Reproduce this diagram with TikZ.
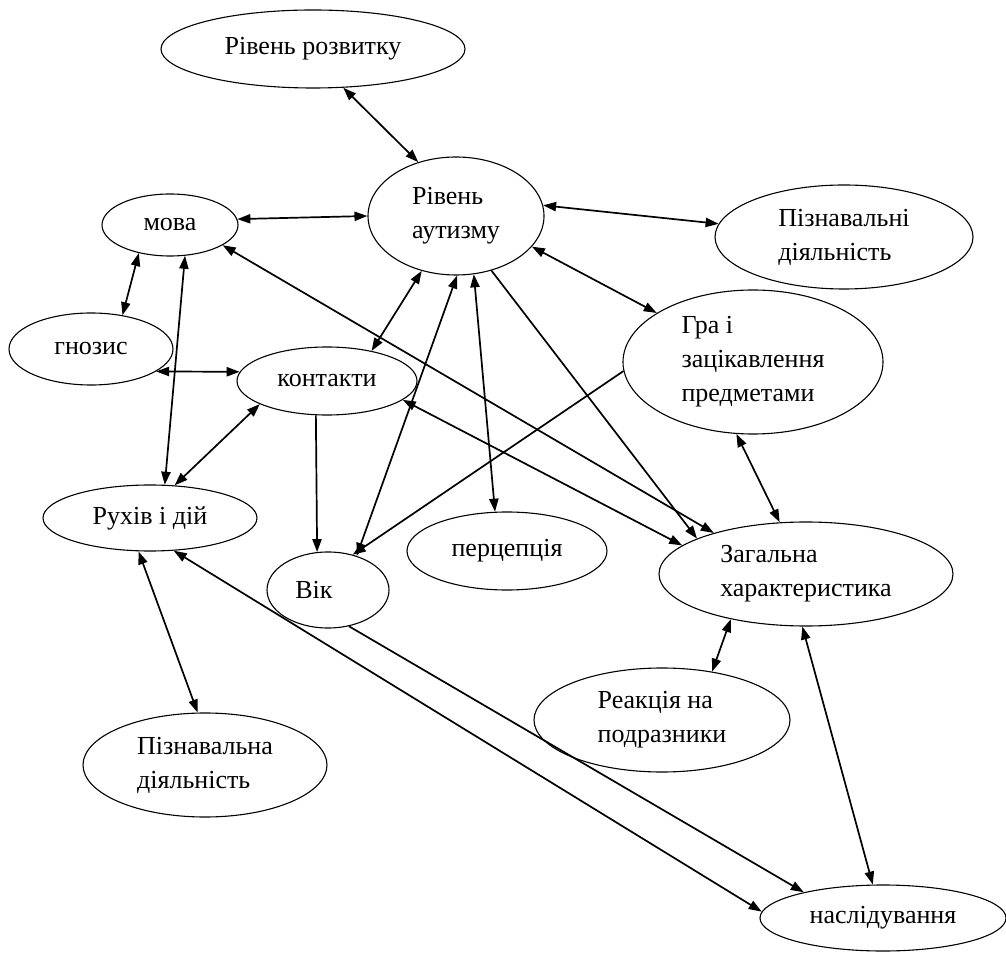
\documentclass[tikz,border=0pt]{standalone}
\usepackage{fontspec}
\setmainfont{Liberation Serif}
\usetikzlibrary{shapes.geometric,arrows.meta}
\tikzset{
  el/.style={draw, ellipse, inner sep=0pt, line width=0.55pt, align=left,
             font=\fontsize{13}{17}\selectfont},
  tip/.tip={Triangle[length=6.5pt,width=4.6pt]},
  ar/.style={-tip, line width=0.85pt},
  bi/.style={tip-tip, line width=0.85pt}
}
\begin{document}
\begin{tikzpicture}[x=0.5pt,y=-0.5pt]
\useasboundingbox (0,0) rectangle (1006,956);
% nodes (min width = rx pt, min height = ry pt)
\node[el, minimum width=152pt, minimum height=39pt] (rr)   at (313,49)  {Рівень розвитку};
\node[el, minimum width=88pt,  minimum height=59pt] (ra)   at (456,216) {Рівень\\аутизму};
\node[el, minimum width=68pt,  minimum height=31pt] (mova) at (170,225) {мова};
\node[el, minimum width=129pt, minimum height=52pt] (pz)   at (844,237) {Пізнавальні\\діяльність};
\node[el, minimum width=82pt,  minimum height=36pt] (gn)   at (91,349)  {гнозис};
\node[el, minimum width=90pt,  minimum height=34pt] (kont) at (327,381) {контакти};
\node[el, minimum width=130pt, minimum height=72pt] (gra)  at (753,362) {Гра і\\зацікавлення\\предметами};
\node[el, minimum width=107pt, minimum height=33pt] (ruh)  at (150,518) {Рухів і дій};
\node[el, minimum width=61pt,  minimum height=38pt] (vik)  at (328,590) {Вік\hspace*{14pt}};
\node[el, minimum width=100pt, minimum height=39pt] (perc) at (507,551) {перцепція};
\node[el, minimum width=147pt, minimum height=52pt] (zag)  at (806,574) {Загальна\\характеристика};
\node[el, minimum width=128pt, minimum height=52pt] (rea)  at (662,720) {Реакція на\\подразники};
\node[el, minimum width=122pt, minimum height=52pt] (pzn)  at (205,765) {Пізнавальна\\діяльність};
\node[el, minimum width=123pt, minimum height=33pt] (nasl) at (883,918) {наслідування};
% connectors
\draw[bi] (rr.-52) -- (ra.125);
\draw[bi] (mova.5) -- (ra.180);
\draw[bi] (ra.7) -- (pz.174);
\draw[bi] (ra.-22) -- (gra.153);
\draw[bi] (ra.-122) -- (kont.34);
\draw[bi] (ra.-89) -- (vik.50);
\draw[bi] (ra.-73) -- (perc.107);
\draw[ar] (ra.-57) -- (zag.162);
\draw[bi] (mova.-21) -- (zag.156);
\draw[bi] (kont.-14) -- (zag.167);
\draw[bi] (gra.-103) -- (zag.117);
\draw[ar] (gra.184) -- (vik.55);
\draw[bi] (zag.-149) -- (rea.44);
\draw[bi] (zag.-94) -- (nasl.107);
\draw[ar] (vik.-60) -- (nasl.162);
\draw[bi] (ruh.-54) -- (nasl.177);
\draw[bi] (ruh.-109) -- (pzn.98);
\draw[bi] (mova.-64) -- (ruh.66);
\draw[bi] (mova.-138) -- (gn.47);
\draw[bi] (gn.-19) -- (kont.174);
\draw[bi] (kont.-161) -- (ruh.53);
\draw[ar] (kont.-108) -- (vik.106);
\end{tikzpicture}
\end{document}
